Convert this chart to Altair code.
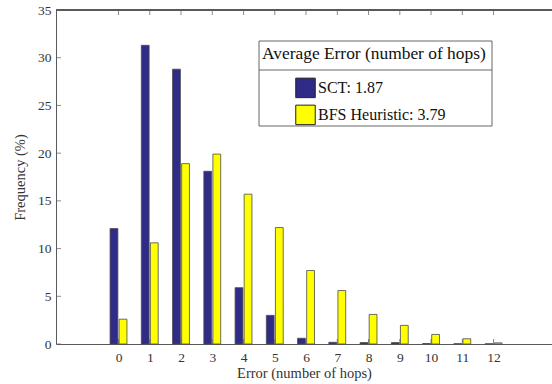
import altair as alt
import pandas as pd

# ---- data ----
errors = list(range(13))
sct_freq = [12.1, 31.3, 28.8, 18.1, 5.9, 3.0, 0.6, 0.18, 0.15, 0.15, 0.05, 0.03, 0.02]
bfs_freq = [2.6, 10.6, 18.9, 19.9, 15.7, 12.2, 7.7, 5.6, 3.1, 1.95, 1.0, 0.55, 0.12]
series_names = ["SCT: 1.87", "BFS Heuristic: 3.79"]
series_colors = ["#2f2b87", "#ffff00"]
legend_title = "Average Error (number of hops)"
x_ticks = list(range(13))
y_ticks = [0, 5, 10, 15, 20, 25, 30, 35]
x_title = "Error (number of hops)"
y_title = "Frequency (%)"

rows = []
for e, s, b in zip(errors, sct_freq, bfs_freq):
    rows.append({"error": e, "series": series_names[0], "value": s})
    rows.append({"error": e, "series": series_names[1], "value": b})
df = pd.DataFrame(rows)
xt = pd.DataFrame({"t": x_ticks})
yt = pd.DataFrame({"t": y_ticks})

FONT = "Liberation Serif"
TXT = "#333333"
AX = "#5a5a5a"

xscale = alt.Scale(domain=[-2, 13.87], nice=False, zero=False)
yscale = alt.Scale(domain=[0, 35], nice=False)

bottom_axis = alt.Axis(
    orient="bottom", values=x_ticks, title=x_title, ticks=False, tickSize=0,
    domain=True, domainColor=AX, domainWidth=1, grid=False,
    labelFont=FONT, labelFontSize=13.5, labelColor=TXT, labelPadding=6,
    titleFont=FONT, titleFontSize=14.5, titleFontWeight="normal", titleColor=TXT,
    titlePadding=3, labelFlush=False,
)
left_axis = alt.Axis(
    orient="left", values=y_ticks, title=y_title, ticks=False, tickSize=0,
    domain=True, domainColor=AX, domainWidth=1, grid=False,
    labelFont=FONT, labelFontSize=13.5, labelColor=TXT, labelPadding=5,
    titleFont=FONT, titleFontSize=14.5, titleFontWeight="normal", titleColor=TXT,
    titlePadding=10, labelFlush=False,
)

legend = alt.Legend(
    orient="none", legendX=206, legendY=35, title=legend_title, titleLimit=500,
    titleFont=FONT, titleFontSize=17.4, titleFontWeight="normal", titleColor="#111",
    titleAnchor="start", titlePadding=15,
    labelFont=FONT, labelFontSize=16, labelColor="#111", labelOffset=2, labelLimit=400,
    symbolType="square", symbolSize=380, symbolStrokeColor="#222",
    symbolStrokeWidth=1, symbolOffset=33, rowPadding=2,
    padding=0, cornerRadius=0,
)

bars = alt.Chart(df).transform_calculate(
    x0=f"datum.series == '{series_names[0]}' ? datum.error - 0.27 : datum.error + 0.02",
    x1=f"datum.series == '{series_names[0]}' ? datum.error - 0.02 : datum.error + 0.27",
).mark_bar(stroke="#4a4a4a", strokeWidth=0.8).encode(
    x=alt.X("x0:Q", scale=xscale, axis=bottom_axis),
    x2="x1:Q",
    y=alt.Y("value:Q", scale=yscale, axis=left_axis),
    y2=alt.datum(0),
    color=alt.Color("series:N", scale=alt.Scale(domain=series_names, range=series_colors),
                    legend=legend, sort=series_names),
)

xticks_bottom = alt.Chart(xt).mark_tick(size=10, thickness=1, color=AX, clip=True).encode(
    x=alt.X("t:Q", scale=xscale), y=alt.value(334),
)
xticks_top = alt.Chart(xt).mark_tick(size=10, thickness=1, color=AX, clip=True).encode(
    x=alt.X("t:Q", scale=xscale), y=alt.value(0),
)
yticks_left = alt.Chart(yt).mark_tick(size=10, thickness=1, color=AX, clip=True).encode(
    y=alt.Y("t:Q", scale=yscale), x=alt.value(0),
)

top_border = alt.Chart(xt).mark_rule(color=AX, strokeWidth=1).encode(
    x=alt.value(0), x2=alt.value(496), y=alt.value(0),
)

# legend frame and title separator (decoration)
frame = alt.Chart(pd.DataFrame({"k": [0]})).mark_rect(
    fill="white", stroke="#666", strokeWidth=1
).encode(x=alt.value(203), x2=alt.value(436), y=alt.value(31), y2=alt.value(116))
sep = alt.Chart(pd.DataFrame({"k": [0]})).mark_rule(color="#666", strokeWidth=1).encode(
    x=alt.value(203), x2=alt.value(436), y=alt.value(60),
)

chart = alt.layer(frame, sep, bars, xticks_bottom, xticks_top, yticks_left, top_border).properties(
    width=496, height=334,
    autosize=alt.AutoSizeParams(type="none"),
    padding={"left": 56, "top": 10, "right": 0, "bottom": 40},
    background="white",
).configure_view(stroke=None)

chart.save("out.html", embed_options={"renderer": "svg", "actions": False})
